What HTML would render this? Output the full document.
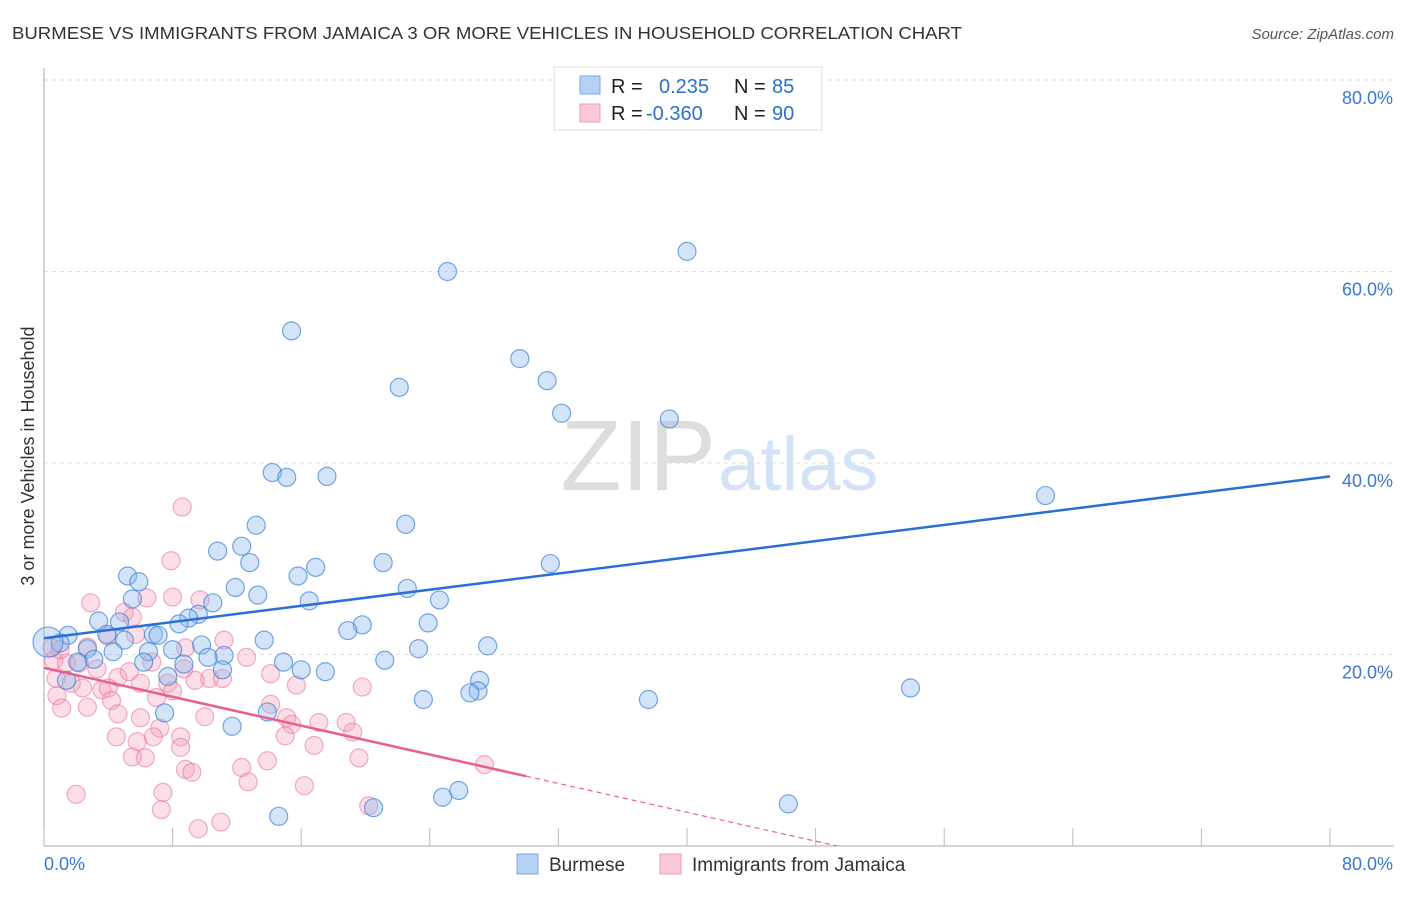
<!DOCTYPE html>
<html><head><meta charset="utf-8"><style>
body{margin:0;background:#fff;font-family:"Liberation Sans",sans-serif}
svg text{font-family:"Liberation Sans",sans-serif}
</style></head><body>
<svg id="chart" width="1406" height="892">
<text x="12" y="39" font-size="17.5" fill="#333" textLength="950" lengthAdjust="spacingAndGlyphs">BURMESE VS IMMIGRANTS FROM JAMAICA 3 OR MORE VEHICLES IN HOUSEHOLD CORRELATION CHART</text>
<text x="1394" y="39" font-size="15" fill="#555" font-style="italic" text-anchor="end">Source: ZipAtlas.com</text>
<text x="34" y="456" font-size="18" fill="#333" transform="rotate(-90 34 456)" text-anchor="middle">3 or more Vehicles in Household</text>
<text x="716" y="490" font-size="100" fill="#ddd" font-family="Liberation Serif" text-anchor="end">ZIP</text>
<text x="718" y="490" font-size="76" fill="#d3e3f5">atlas</text>
<g id="grid"></g><g id="pts"></g><g id="trend"></g>
<g>
<rect x="554" y="67" width="268" height="63" fill="#fff" stroke="#ddd"/>
<rect x="580" y="76" width="20" height="18" fill="#b5d0f2" stroke="#7aaae6"/>
<rect x="580" y="104" width="20" height="18" fill="#f9c9d7" stroke="#f09ab3"/>
<text x="611" y="93" font-size="20" fill="#222">R =</text><text x="659" y="93" font-size="20" fill="#2b6fd0">0.235</text>
<text x="734" y="93" font-size="20" fill="#222">N =</text><text x="772" y="93" font-size="20" fill="#2b6fd0">85</text>
<text x="611" y="120" font-size="20" fill="#222">R =</text><text x="646" y="120" font-size="20" fill="#2b6fd0">-0.360</text>
<text x="734" y="120" font-size="20" fill="#222">N =</text><text x="772" y="120" font-size="20" fill="#2b6fd0">90</text>
</g>
<g>
<rect x="517" y="854" width="21" height="20" fill="#b5d0f2" stroke="#7aaae6"/>
<text x="549" y="871" font-size="19" fill="#333">Burmese</text>
<rect x="660" y="854" width="21" height="20" fill="#f9c9d7" stroke="#f09ab3"/>
<text x="692" y="871" font-size="19" fill="#333">Immigrants from Jamaica</text>
</g>
<text x="44" y="870" font-size="18" fill="#3a78d4">0.0%</text>
<text x="1393" y="870" font-size="18" fill="#3a78d4" text-anchor="end">80.0%</text>
</svg>
<script>
const yTicks=[20,40,60,80];
const yTickLabels=["20.0%","40.0%","60.0%","80.0%"];
const xTicks=[0,8,16,24,32,40,48,56,64,72,80];
const blueX=[15.4,25.1,40.0,22.1,29.6,31.3,32.2,38.9,62.3,14.2,15.1,17.6,13.2,22.5,12.3,10.8,12.8,21.1,31.5,16.9,5.2,5.9,15.8,11.9,22.6,13.3,5.5,10.5,16.5,24.6,9.6,9.0,8.4,3.4,4.7,23.9,19.8,18.9,6.8,7.1,1.5,13.7,5.0,3.9,27.6,9.8,1.0,2.7,6.5,8.0,4.3,23.3,11.2,10.2,21.2,8.7,6.2,14.9,3.1,2.1,16.0,17.5,11.1,7.7,27.1,1.4,27.0,26.5,23.6,37.6,53.9,7.5,13.9,11.7,25.8,24.8,20.5,46.3,14.6,0.25];
const blueY=[53.8,60.0,62.1,47.9,50.9,48.6,45.2,44.6,36.6,39.0,38.5,38.6,33.5,33.6,31.3,30.8,29.6,29.6,29.5,29.1,28.2,27.6,28.2,27.0,26.9,26.2,25.8,25.4,25.6,25.7,24.2,23.8,23.2,23.5,23.4,23.3,23.1,22.5,22.1,22.0,22.0,21.5,21.5,22.1,20.9,21.0,21.2,20.6,20.3,20.5,20.3,20.6,19.9,19.7,19.4,19.0,19.2,19.2,19.5,19.2,18.4,18.2,18.4,17.7,17.3,17.3,16.2,16.0,15.3,15.3,16.5,13.9,14.0,12.5,5.8,5.1,4.0,4.4,3.1,21.3];
const pinkX=[8.6,7.9,2.9,6.4,8.0,9.7,5.0,5.5,11.2,4.0,5.7,2.7,8.8,12.6,6.7,0.6,1.4,2.2,3.3,4.6,5.3,8.7,14.1,10.3,9.4,11.1,7.7,0.75,1.7,6.0,2.4,3.6,4.0,15.7,19.8,8.0,7.0,0.8,4.2,1.1,2.7,4.6,10.0,14.1,6.0,15.1,15.4,17.1,18.8,7.2,19.2,4.5,6.8,8.5,15.0,16.8,5.8,8.5,5.5,6.3,13.9,19.6,27.4,8.8,9.2,12.3,12.7,16.2,7.4,2.0,7.3,20.2,11.0,9.6,0.5,1.0];
const pinkY=[35.4,29.8,25.4,25.9,26.0,25.7,24.4,23.9,21.5,21.9,22.1,20.8,20.7,19.7,19.2,19.4,19.1,19.1,18.5,17.6,18.2,18.5,18.0,17.5,17.3,17.5,17.0,17.5,17.0,17.0,16.5,16.3,16.5,16.8,16.6,16.2,15.5,15.7,15.2,14.4,14.5,13.8,13.5,14.8,13.4,13.4,12.7,12.9,12.9,12.3,11.9,11.4,11.4,11.4,11.5,10.5,10.9,10.3,9.3,9.2,8.9,9.2,8.5,8.0,7.7,8.2,6.7,6.3,5.6,5.4,3.8,4.2,2.5,1.8,20.7,20.5];
const blueTrend=[21.7,38.6];
const pinkTrend=[18.6,-0.377];
const X=v=>44+v/80*1286, Y=v=>846-v/80*766;
const NS="http://www.w3.org/2000/svg";
function mk(tag,attrs,parent){const e=document.createElementNS(NS,tag);for(const k in attrs)e.setAttribute(k,attrs[k]);parent.appendChild(e);return e;}
const grid=document.getElementById('grid'),pts=document.getElementById('pts'),tr=document.getElementById('trend');
yTicks.forEach((t,i)=>{
  const l=mk('line',{x1:44,x2:1394,y1:Y(t),y2:Y(t),stroke:'#ddd','stroke-dasharray':'4 4'},grid);
  
  
  const tx=mk('text',{x:1393,y:Y(t)+24,'font-size':18,fill:'#3a78d4','text-anchor':'end'},grid);
  tx.textContent=yTickLabels[i];
  
  
});
const ax=mk('line',{x1:44,x2:44,y1:68,y2:846,stroke:'#aaa'},grid);


const bx=mk('line',{x1:44,x2:1394,y1:846,y2:846,stroke:'#aaa'},grid);


xTicks.forEach(t=>{
  const l=mk('line',{x1:X(t),x2:X(t),y1:828,y2:846,stroke:'#bbb'},grid);
  
  
});
pinkX.forEach((x,i)=>{
  const c=mk('circle',{cx:X(x),cy:Y(pinkY[i]),r:9,fill:'rgba(244,160,185,0.35)',stroke:'rgba(235,120,155,0.6)','stroke-width':1.2},pts);
  
  
});
blueX.forEach((x,i)=>{
  const c=mk('circle',{cx:X(x),cy:Y(blueY[i]),r:i==blueX.length-1?15:9,fill:'rgba(140,185,240,0.38)',stroke:'rgba(60,130,215,0.7)','stroke-width':1.2},pts);
  
  
});
const bl=mk('line',{x1:X(0),y1:Y(blueTrend[0]),x2:X(80),y2:Y(blueTrend[1]),stroke:'#2a6fd6','stroke-width':2.5},tr);


const pend=30, pzero=-pinkTrend[0]/pinkTrend[1];
const pl=mk('line',{x1:X(0),y1:Y(pinkTrend[0]),x2:X(pend),y2:Y(pinkTrend[0]+pinkTrend[1]*pend),stroke:'#e8608e','stroke-width':2.5},tr);


const pd=mk('line',{x1:X(pend),y1:Y(pinkTrend[0]+pinkTrend[1]*pend),x2:X(pzero),y2:Y(0),stroke:'#e8608e','stroke-width':1.2,'stroke-dasharray':'5 4'},tr);


</script>
</body></html>
